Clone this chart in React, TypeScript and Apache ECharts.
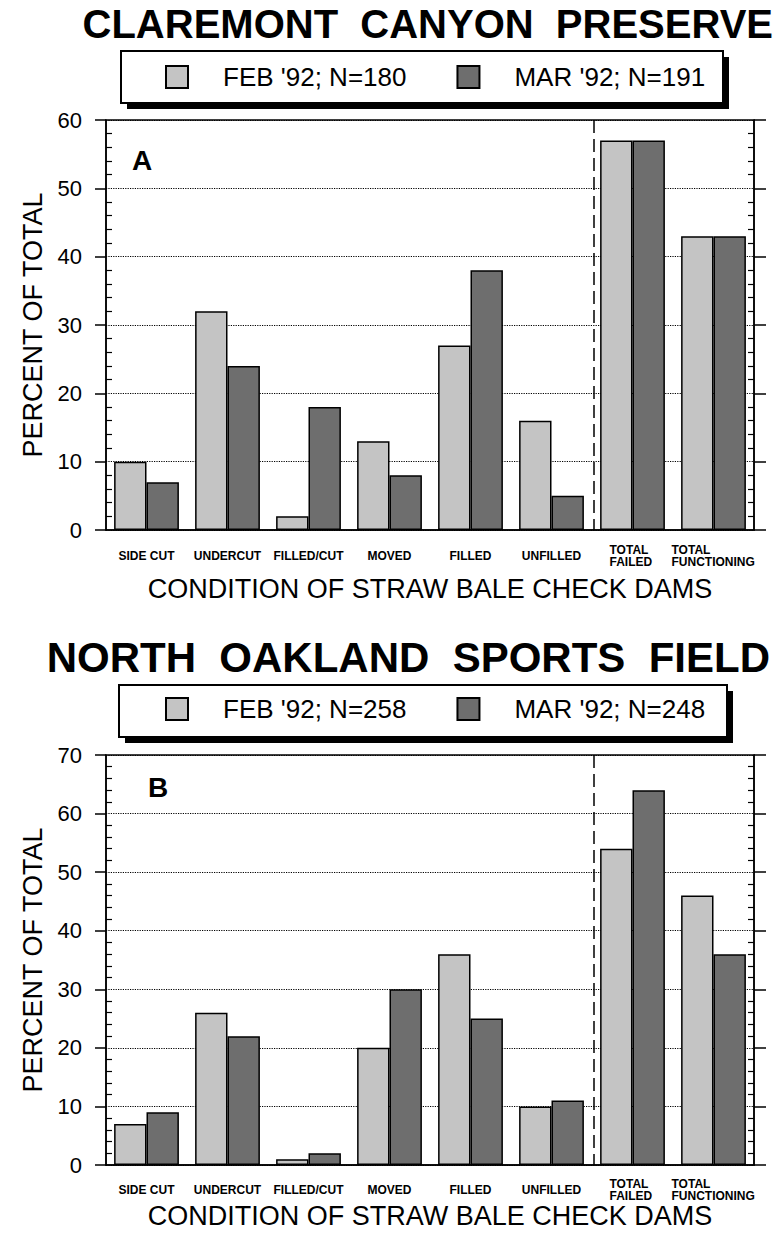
import React, { useEffect, useRef } from 'react';
import * as echarts from 'echarts';

const categories = ['SIDE CUT', 'UNDERCUT', 'FILLED/CUT', 'MOVED', 'FILLED', 'UNFILLED', 'TOTAL\nFAILED', 'TOTAL\nFUNCTIONING'];
const titleA = 'CLAREMONT  CANYON  PRESERVE';
const titleB = 'NORTH  OAKLAND  SPORTS  FIELD';
const namesA = ["FEB '92; N=180", "MAR '92; N=191"];
const namesB = ["FEB '92; N=258", "MAR '92; N=248"];
const febA = [10, 32, 2, 13, 27, 16, 57, 43];
const marA = [7, 24, 18, 8, 38, 5, 57, 43];
const febB = [7, 26, 1, 20, 36, 10, 54, 46];
const marB = [9, 22, 2, 30, 25, 11, 64, 36];
const yTicksA = [0, 10, 20, 30, 40, 50, 60];
const yTicksB = [0, 10, 20, 30, 40, 50, 60, 70];
const xAxisTitle = 'CONDITION OF STRAW BALE CHECK DAMS';
const yAxisTitle = 'PERCENT OF TOTAL';
const panelLetters = ['A', 'B'];

const FONT = 'Liberation Sans';
const LIGHT = '#c4c4c4';
const DARK = '#6e6e6e';

function labelFormatter(v: string) {
  if (v.indexOf('\n') < 0) return v;
  const lines = v.split('\n');
  const key = lines.some((l) => l.length > 8) ? 'w' : 'n';
  return lines.map((l) => `{${key}|${l}}`).join('\n');
}

function yAxes(gridIndex: number, ticks: number[]) {
  const min = ticks[0];
  const max = ticks[ticks.length - 1];
  const interval = ticks[1] - ticks[0];
  const base = { type: 'value', gridIndex, min, max, interval };
  const line = { show: true, lineStyle: { color: '#000', width: 1.5 } };
  return [
    {
      ...base,
      position: 'left',
      name: yAxisTitle,
      nameLocation: 'middle',
      nameGap: 62,
      nameTextStyle: { fontFamily: FONT, fontSize: 27, color: '#000', verticalAlign: 'middle' },
      axisLine: line,
      axisTick: { show: true, inside: false, length: 11, lineStyle: { color: '#000', width: 1.5 } },
      axisLabel: { fontFamily: FONT, fontSize: 22, color: '#000', margin: 24 },
      splitLine: { show: true, lineStyle: { type: 'dotted', color: '#000', width: 1.2 } },
    },
    {
      ...base,
      position: 'left',
      axisLine: { show: false },
      axisTick: { show: false, inside: true },
      axisLabel: { show: false },
      splitLine: { show: false },
      minorTick: { show: true, splitNumber: 5, length: 6, lineStyle: { color: '#000', width: 1.2 } },
    },
    {
      ...base,
      position: 'right',
      axisLine: line,
      axisTick: { show: true, inside: false, length: 12, lineStyle: { color: '#000', width: 1.5 } },
      axisLabel: { show: false },
      splitLine: { show: false },
    },
    {
      ...base,
      position: 'right',
      axisLine: { show: false },
      axisTick: { show: false, inside: true },
      axisLabel: { show: false },
      splitLine: { show: false },
      minorTick: { show: true, splitNumber: 5, length: 6, lineStyle: { color: '#000', width: 1.2 } },
    },
  ];
}

function xAxis(gridIndex: number, labelMargin: number, nameGap: number) {
  return {
    type: 'category',
    gridIndex,
    data: categories,
    name: xAxisTitle,
    nameLocation: 'middle',
    nameGap,
    nameTextStyle: { fontFamily: FONT, fontSize: 27, color: '#000', verticalAlign: 'middle' },
    axisLine: { show: true, lineStyle: { color: '#000', width: 1.5 } },
    axisTick: { show: false },
    axisLabel: {
      interval: 0,
      margin: labelMargin,
      verticalAlign: 'middle',
      fontFamily: FONT,
      fontWeight: 'bold',
      fontSize: 12,
      lineHeight: 12,
      color: '#000',
      formatter: labelFormatter,
      rich: {
        n: { width: 46, align: 'left', fontFamily: FONT, fontWeight: 'bold', fontSize: 12, lineHeight: 12, color: '#000' },
        w: { width: 84, align: 'left', fontFamily: FONT, fontWeight: 'bold', fontSize: 12, lineHeight: 12, color: '#000' },
      },
    },
    splitLine: { show: false },
  };
}

function barSeries(name: string, data: number[], color: string, gridIdx: number) {
  return {
    type: 'bar',
    name,
    data,
    xAxisIndex: gridIdx,
    yAxisIndex: gridIdx * 4,
    barGap: '0%',
    barCategoryGap: '20%',
    itemStyle: { color, borderColor: '#000', borderWidth: 1.5 },
  };
}

function legend(names: string[], top: number) {
  return {
    data: names,
    left: 165,
    top,
    padding: 0,
    itemWidth: 22,
    itemHeight: 22,
    itemGap: 50,
    icon: 'rect',
    selectedMode: false,
    textStyle: { fontFamily: FONT, fontSize: 26, color: '#000', padding: [0, 0, 0, 30] },
  };
}

const grids = [
  { left: 106, top: 120, width: 648, height: 410 },
  { left: 106, top: 755, width: 648, height: 410 },
];
const tickSets = [yTicksA, yTicksB];

export default function App() {
  const ref = useRef<HTMLDivElement>(null);
  useEffect(() => {
    if (!ref.current) return;
    const chart = echarts.init(ref.current, undefined, { renderer: 'svg' });
    const option: any = {
      animation: false,
      backgroundColor: '#fff',
      title: [
        { text: titleA, right: 3, top: 4, padding: 0, textStyle: { fontFamily: FONT, fontSize: 40, fontWeight: 'bold', color: '#000' } },
        { text: titleB, right: 6, top: 636, padding: 0, textStyle: { fontFamily: FONT, fontSize: 42, fontWeight: 'bold', color: '#000' } },
      ],
      legend: [legend(namesA, 64), legend(namesB, 696)],
      grid: grids.map((g) => ({ ...g, show: true, borderColor: '#000', borderWidth: 1.5, backgroundColor: 'transparent' })),
      xAxis: [xAxis(0, 26, 59), xAxis(1, 25, 42)],
      yAxis: [...yAxes(0, yTicksA), ...yAxes(1, yTicksB)],
      series: [
        barSeries(namesA[0], febA, LIGHT, 0),
        barSeries(namesA[1], marA, DARK, 0),
        barSeries(namesB[0], febB, LIGHT, 1),
        barSeries(namesB[1], marB, DARK, 1),
      ],
    };
    chart.setOption(option);

    const elements: any[] = [];
    const boxes = [
      { x: 121, y: 51, w: 602, h: 52 },
      { x: 119, y: 685, w: 608, h: 52 },
    ];
    boxes.forEach((b) => {
      elements.push({ type: 'rect', z: 0, shape: { x: b.x + 6, y: b.y + 6, width: b.w, height: b.h }, style: { fill: '#000' } });
      elements.push({ type: 'rect', z: 1, shape: { x: b.x, y: b.y, width: b.w, height: b.h }, style: { fill: '#fff', stroke: '#000', lineWidth: 2 } });
    });
    // dashed separators between UNFILLED and TOTAL FAILED, positioned from the axes' own scales
    [0, 1].forEach((i) => {
      const ticks = tickSets[i];
      const xa = chart.convertToPixel({ xAxisIndex: i } as any, categories[5]) as number;
      const xb = chart.convertToPixel({ xAxisIndex: i } as any, categories[6]) as number;
      const yTop = chart.convertToPixel({ yAxisIndex: i * 4 } as any, ticks[ticks.length - 1]) as number;
      const yBot = chart.convertToPixel({ yAxisIndex: i * 4 } as any, ticks[0]) as number;
      const xm = (xa + xb) / 2 + 2;
      elements.push({
        type: 'line',
        z: 10,
        shape: { x1: xm, y1: yTop, x2: xm, y2: yBot },
        style: { stroke: '#000', lineWidth: 1.5, lineDash: [13, 6] },
      });
    });
    elements.push({ type: 'text', z: 10, x: 132, y: 146, style: { text: panelLetters[0], fontFamily: FONT, fontSize: 28, fontWeight: 'bold', fill: '#000' } });
    elements.push({ type: 'text', z: 10, x: 148, y: 773, style: { text: panelLetters[1], fontFamily: FONT, fontSize: 28, fontWeight: 'bold', fill: '#000' } });
    chart.setOption({ graphic: { elements } });

    return () => chart.dispose();
  }, []);
  return <div ref={ref} style={{ position: 'absolute', left: 0, top: 0, width: 776, height: 1241 }} />;
}
